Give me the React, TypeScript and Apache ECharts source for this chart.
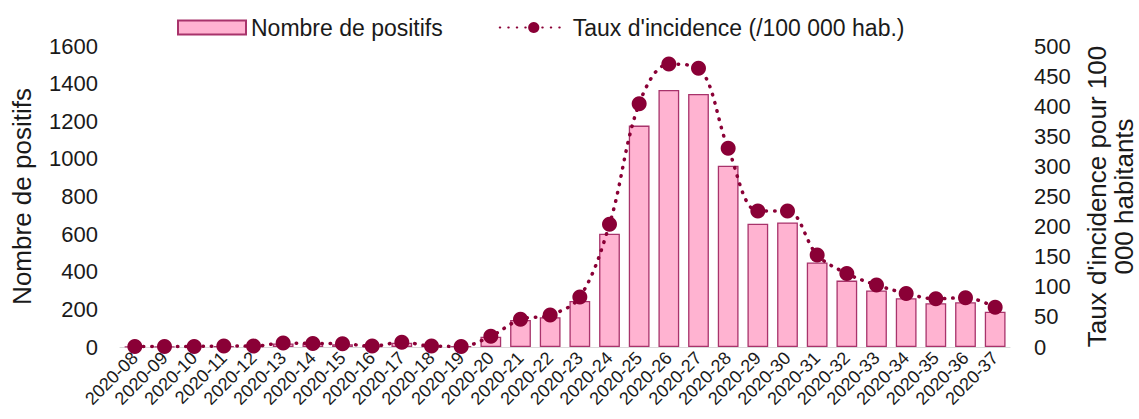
import React, { useEffect, useRef } from "react";
import * as echarts from "echarts";

const weeks = [
  "2020-08", "2020-09", "2020-10", "2020-11", "2020-12", "2020-13", "2020-14", "2020-15",
  "2020-16", "2020-17", "2020-18", "2020-19", "2020-20", "2020-21", "2020-22", "2020-23",
  "2020-24", "2020-25", "2020-26", "2020-27", "2020-28", "2020-29", "2020-30", "2020-31",
  "2020-32", "2020-33", "2020-34", "2020-35", "2020-36", "2020-37",
];

const positifs = [
  2, 2, 3, 4, 4, 19, 18, 15, 4, 23, 4, 3, 55, 144, 158, 245,
  602, 1177, 1366, 1345, 964, 655, 662, 449, 353, 300, 259, 233, 238, 188,
];

const incidence = [
  1, 1, 1, 1.5, 1.5, 6.5, 6, 5.5, 1.5, 8, 1.5, 1, 18, 46, 53, 83,
  204, 404, 470, 463, 330, 226, 226, 153, 122, 103, 89, 80, 82, 66,
];

const leftTicks = { min: 0, max: 1600, interval: 200 };
const rightTicks = { min: 0, max: 500, interval: 50 };

const FONT = "Liberation Sans, Arial, sans-serif";
const MAROON = "#8a0036";
const PINK = "#ffb3d1";
const BORDER = "#a8336b";

export default function App() {
  const ref = useRef<HTMLDivElement>(null);

  useEffect(() => {
    if (!ref.current) return;
    const chart = echarts.init(ref.current, undefined, { renderer: "svg" });
    chart.setOption({
      animation: false,
      backgroundColor: "#ffffff",
      textStyle: { fontFamily: FONT, color: "#1a1a1a" },
      legend: {
        left: 172,
        top: 11,
        itemWidth: 68,
        itemHeight: 14,
        itemGap: 56,
        textStyle: { fontFamily: FONT, fontSize: 23, color: "#1a1a1a" },
        data: [
          { name: "Nombre de positifs", icon: "rect" },
          { name: "Taux d'incidence (/100 000 hab.)" },
        ],
      },
      grid: {
        left: 120,
        right: 129,
        top: 46,
        bottom: 72,
        containLabel: false,
        outerBoundsMode: "none",
      },
      xAxis: {
        type: "category",
        data: weeks,
        axisLine: { show: true, lineStyle: { color: "#d9d9d9", width: 1 } },
        axisTick: { show: false },
        axisLabel: {
          interval: 0,
          rotate: 45,
          margin: 8,
          fontFamily: FONT,
          fontSize: 18,
          color: "#1a1a1a",
        },
      },
      yAxis: [
        {
          type: "value",
          ...leftTicks,
          name: "Nombre de positifs",
          nameLocation: "middle",
          nameGap: 85,
          nameRotate: 90,
          nameTextStyle: { fontFamily: FONT, fontSize: 26, color: "#1a1a1a" },
          axisLine: { show: false },
          axisTick: { show: false },
          splitLine: { show: false },
          axisLabel: {
            margin: 22,
            fontFamily: FONT,
            fontSize: 22,
            color: "#1a1a1a",
            formatter: (v: number) => String(v),
          },
        },
        {
          type: "value",
          ...rightTicks,
          position: "right",
          name: "Taux d'incidence pour 100\n000 habitants",
          nameLocation: "middle",
          nameGap: 73,
          nameRotate: 90,
          nameTextStyle: {
            fontFamily: FONT,
            fontSize: 26,
            color: "#1a1a1a",
            lineHeight: 27,
            align: "center",
          },
          axisLine: { show: false },
          axisTick: { show: false },
          splitLine: { show: false },
          axisLabel: {
            margin: 24,
            fontFamily: FONT,
            fontSize: 22,
            color: "#1a1a1a",
            formatter: (v: number) => String(v),
          },
        },
      ],
      series: [
        {
          name: "Nombre de positifs",
          type: "bar",
          yAxisIndex: 0,
          data: positifs,
          barWidth: "70%",
          itemStyle: { color: PINK, borderColor: BORDER, borderWidth: 1.3 },
        },
        {
          name: "Taux d'incidence (/100 000 hab.)",
          type: "line",
          yAxisIndex: 1,
          data: incidence,
          smooth: 0.35,
          symbol: "circle",
          symbolSize: 15,
          itemStyle: { color: MAROON },
          lineStyle: { color: MAROON, width: 3.5, type: [0.5, 8], cap: "round" },
          z: 5,
        },
      ],
    });
    return () => chart.dispose();
  }, []);

  return (
    <div
      ref={ref}
      style={{ position: "absolute", left: 0, top: 0, width: 1139, height: 419 }}
    />
  );
}
